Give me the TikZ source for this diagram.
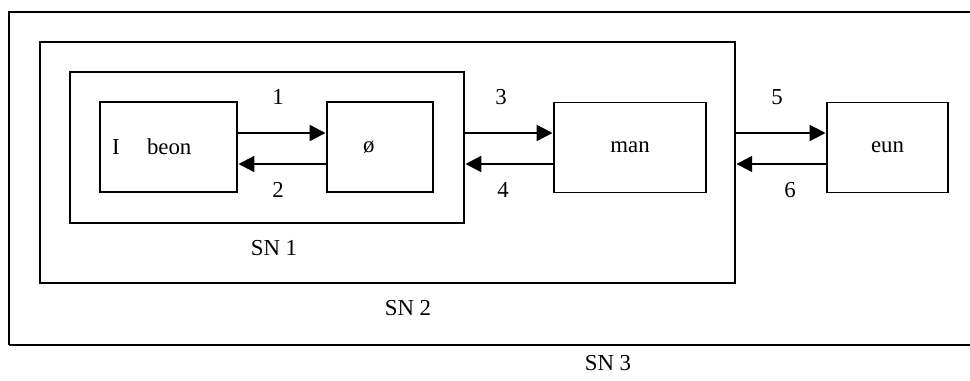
\documentclass[tikz,border=0pt]{standalone}
\usepackage{fontspec}
\setmainfont{Liberation Serif}
\usetikzlibrary{arrows.meta, positioning}
\tikzset{
  wbox/.style={draw=black, line width=0.7pt, minimum height=1.8cm, inner sep=0pt,
               font=\fontsize{13pt}{15pt}\selectfont},
  lbox/.style={wbox, align=left},
  frame/.style={draw=black, line width=0.7pt, minimum height=#1cm, inner sep=0pt},
  arr/.style={-{Triangle[length=9pt,width=9pt]}, line width=1.3pt, black, shorten >=0.5pt},
  lbl/.style={font=\fontsize{13pt}{15pt}\selectfont, inner sep=0pt},
}
\begin{document}
\begin{tikzpicture}[x=0.02cm, y=-0.02cm]
    \useasboundingbox (0,0) rectangle (970,380);
    % outer frame (SN 3), open to the right
    \draw[line width=0.8pt] (970,12) -- (9,12) -- (9,345);
    \draw[line width=1.1pt] (9,345) -- (970,345);

    \node[frame=4.82, minimum width=13.9cm] (sn2) at (387.5,162.5) {};
    \node[frame=3.02, minimum width=7.88cm] (sn1) at (267,147.5) {};

    \node[lbox, text width=2.26cm, inner xsep=0.24cm] (beon) at (168.5,147) {I\hspace{1.2em}beon};
    \node[lbox, text width=0.68cm, inner xsep=0.72cm] (phi) at (380,147) {ø};
    \node[wbox, minimum width=3.04cm] (man) at (630,147.5) {man};
    \node[wbox, minimum width=2.42cm] (eun) at (887.5,147.5) {eun};

    \coordinate (hi) at (0,133);
    \coordinate (lo) at (0,164);

    \draw[arr] (beon.east |- hi) -- (phi.west |- hi);
    \draw[arr] (phi.west |- lo) -- (beon.east |- lo);
    \draw[arr] (sn1.east |- hi) -- (man.west |- hi);
    \draw[arr] (man.west |- lo) -- (sn1.east |- lo);
    \draw[arr] (sn2.east |- hi) -- (eun.west |- hi);
    \draw[arr] (eun.west |- lo) -- (sn2.east |- lo);

    \node[lbl] (n1) at (278,97) {1};
    \node[lbl] (n2) at (278,190) {2};
    \node[lbl] (n3) at (501,97) {3};
    \node[lbl] (n4) at (503,190) {4};
    \node[lbl] (n5) at (777,97) {5};
    \node[lbl] (n6) at (790,190) {6};

    \node[lbl] (t1) at (274,248) {SN 1};
    \node[lbl] (t2) at (408,308) {SN 2};
    \node[lbl] (t3) at (608,363) {SN 3};
  \end{tikzpicture}
\end{document}
